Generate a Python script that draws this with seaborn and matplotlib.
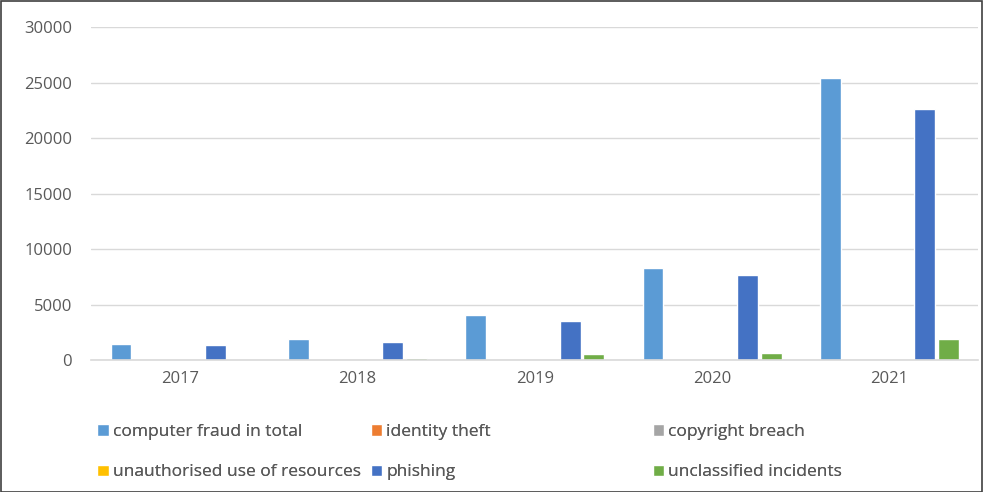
import matplotlib
matplotlib.use("Agg")
import matplotlib.pyplot as plt
import seaborn as sns
import pandas as pd
from matplotlib.patches import Rectangle, Patch

years = ["2017", "2018", "2019", "2020", "2021"]
series = ["computer fraud in total", "identity theft", "copyright breach",
          "unauthorised use of resources", "phishing", "unclassified incidents"]
computer_fraud = [1440, 1890, 4080, 8320, 25450]
identity_theft = [20, 15, 20, 25, 30]
copyright_breach = [30, 30, 30, 20, 20]
unauthorised_use = [5, 5, 5, 5, 5]
phishing = [1350, 1650, 3520, 7650, 22600]
unclassified = [50, 220, 560, 680, 1900]
colors = ["#5B9BD5", "#ED7D31", "#A5A5A5", "#FFC000", "#4472C4", "#70AD47"]

values = [computer_fraud, identity_theft, copyright_breach, unauthorised_use, phishing, unclassified]
rows = []
for s, vals in zip(series, values):
    for y, v in zip(years, vals):
        rows.append({"year": y, "series": s, "value": v})
df = pd.DataFrame(rows)

sns.set_theme(style="white")
plt.rcParams["font.family"] = ["Open Sans", "DejaVu Sans"]
txt = "#595959"

fig = plt.figure(figsize=(9.83, 4.92), dpi=100)
ax = fig.add_axes([0.093, 0.268, 0.902, 0.677])
sns.barplot(data=df, x="year", y="value", hue="series", hue_order=series,
            order=years, palette=colors, width=0.8, gap=0.12, ax=ax,
            legend=False, errorbar=None, saturation=1)
ax.set_ylim(0, 30000)
ax.set_xlim(-0.5, 4.5)
ax.set_yticks(range(0, 30001, 5000))
ax.yaxis.grid(True, color="#D9D9D9", linewidth=1)
ax.set_axisbelow(True)
for sp in ["top", "right", "left"]:
    ax.spines[sp].set_visible(False)
ax.spines["bottom"].set_color("#D9D9D9")
ax.spines["bottom"].set_linewidth(1.2)
ax.set_xlabel("")
ax.set_ylabel("")
ax.tick_params(axis="both", length=0, labelsize=12, colors=txt, pad=8)
ax.tick_params(axis="y", pad=14)

# legends in three columns
handles = [Patch(facecolor=c) for c in colors]
cols = [(0, 3), (1, 4), (2, 5)]
xs = [0.092, 0.370, 0.657]
for (i, j), x in zip(cols, xs):
    leg = fig.legend([handles[i], handles[j]], [series[i], series[j]],
                     loc="upper left", bbox_to_anchor=(x, 0.152),
                     frameon=False, fontsize=12.5, handlelength=0.65,
                     handleheight=0.65, handletextpad=0.25, labelspacing=1.4,
                     labelcolor=txt, borderaxespad=0)
    fig.add_artist(leg)

fig.add_artist(Rectangle((0.001, 0.001), 0.998, 0.997, transform=fig.transFigure,
                         fill=False, edgecolor="#404040", linewidth=1.2))

fig.savefig("out.png", dpi=100)
